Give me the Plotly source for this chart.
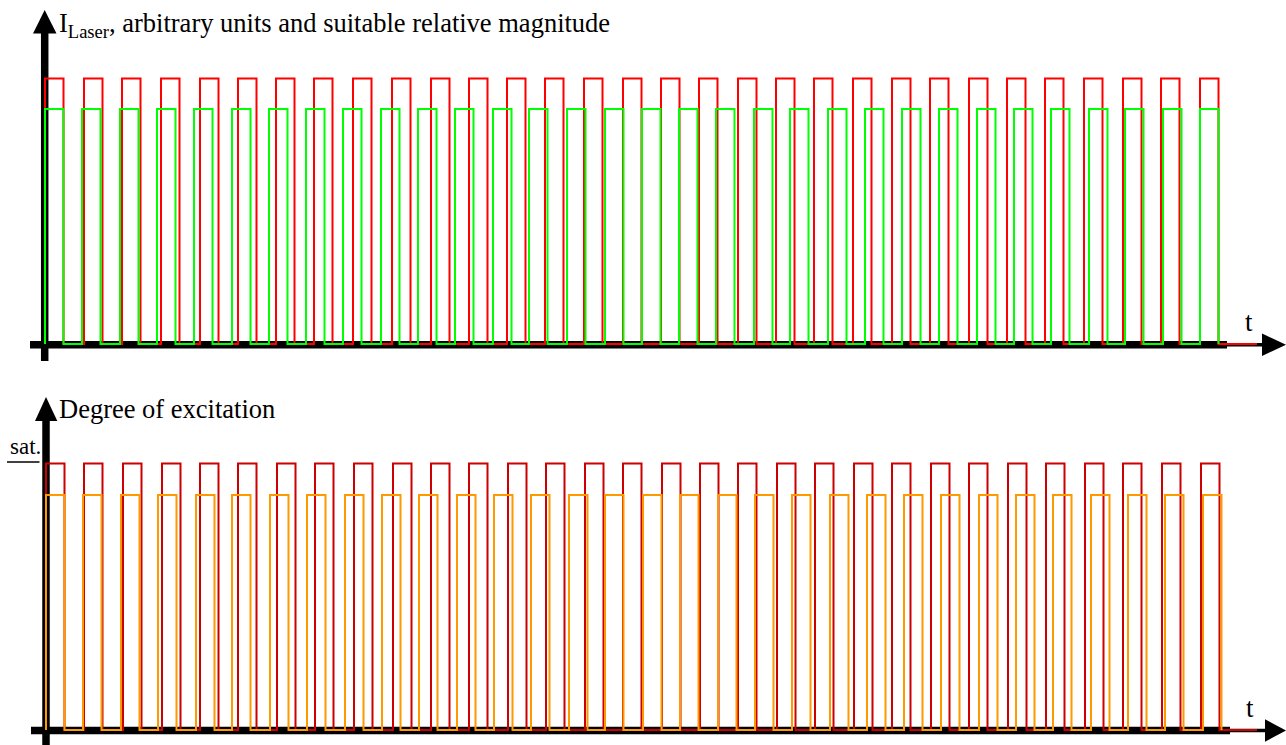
import plotly.graph_objects as go

W, H = 1286, 745

# Pulse onsets (time, arbitrary units) for each signal
laser_red_on = [0, 39, 77, 116, 155, 193, 231, 269, 308, 347, 386, 424, 462, 500, 539, 578,
                616, 654, 693, 731, 769, 808, 847, 885, 924, 962, 1000, 1039, 1078, 1116, 1155]
laser_green_on = [0, 37, 75, 112, 149, 187, 224, 261, 298, 336, 373, 410, 448, 484, 522, 560,
                  597, 634, 671, 709, 745, 783, 820, 857, 894, 932, 969, 1006, 1044, 1080, 1118, 1155]
exc_red_on = [1, 39, 78, 117, 155, 193, 232, 270, 309, 348, 386, 424, 463, 501, 540, 578,
              617, 655, 693, 732, 770, 809, 847, 886, 924, 963, 1001, 1040, 1078, 1117, 1156]
exc_orange_on = [1, 38, 76, 113, 151, 187, 225, 262, 300, 337, 374, 412, 449, 486, 524, 560,
                 598, 635, 673, 710, 747, 785, 822, 859, 896, 934, 971, 1008, 1046, 1083, 1120, 1158]

pulse_width = 18.5
laser_red_level = 1.0
laser_green_level = 0.885
sat_level = 1.0
exc_red_level = 1.0
exc_orange_level = 0.882
red_t_end = 1212

# Pixel layout of the two panels
X0_PX = 45            # t = 0
TOP_BASE_PX, TOP_ONE_PX = 344.0, 78.5
BOT_BASE_PX, BOT_ONE_PX = 730.0, 463.5


def pulse_train(onsets, width, level, t_stop=None):
    xs, ys = [], []
    for s in onsets:
        xs += [s, s, s + width, s + width]
        ys += [0, level, level, 0]
    if t_stop is not None:
        xs.append(t_stop)
        ys.append(0)
    return xs, ys


def y_range(base_px, one_px):
    f0 = 1 - base_px / H
    f1 = 1 - one_px / H
    k = f1 - f0
    return [-f0 / k, 1 + (1 - f1) / k]


def px(x):
    return x / W


def py(y):
    return 1 - y / H


fig = go.Figure()

for (on, lvl, col, xa, ya, stop) in [
    (laser_red_on, laser_red_level, "#ff0000", "x", "y", red_t_end),
    (laser_green_on, laser_green_level, "#00ff00", "x", "y", None),
    (exc_red_on, exc_red_level, "#cc0000", "x2", "y2", red_t_end),
    (exc_orange_on, exc_orange_level, "#ff9900", "x2", "y2", None),
]:
    xs, ys = pulse_train(on, pulse_width, lvl, stop)
    fig.add_trace(go.Scatter(x=xs, y=ys, mode="lines", xaxis=xa, yaxis=ya,
                             line=dict(color=col, width=2), hoverinfo="skip",
                             showlegend=False))

xr = [-X0_PX, W - X0_PX]
ax_common = dict(visible=False, fixedrange=True)
fig.update_layout(
    width=W, height=H, autosize=False,
    margin=dict(l=0, r=0, t=0, b=0, pad=0),
    paper_bgcolor="white", plot_bgcolor="rgba(0,0,0,0)",
    xaxis=dict(domain=[0, 1], range=xr, anchor="y", **ax_common),
    yaxis=dict(domain=[0, 1], range=y_range(TOP_BASE_PX, TOP_ONE_PX), anchor="x", **ax_common),
    xaxis2=dict(domain=[0, 1], range=xr, anchor="y2", **ax_common),
    yaxis2=dict(domain=[0, 1], range=y_range(BOT_BASE_PX, BOT_ONE_PX), anchor="x2", **ax_common),
)

shapes = []


def seg(x1, y1, x2, y2, w):
    shapes.append(dict(type="line", xref="paper", yref="paper", layer="below",
                       x0=px(x1), y0=py(y1), x1=px(x2), y1=py(y2),
                       line=dict(color="black", width=w)))


def tri(points):
    d = "M " + " L ".join(f"{px(a):.5f},{py(b):.5f}" for a, b in points) + " Z"
    shapes.append(dict(type="path", xref="paper", yref="paper", layer="below", path=d,
                       fillcolor="black", line=dict(color="black", width=0)))


# top panel axes
seg(30, 344.8, 1227, 344.8, 7.5)
seg(1226, 344.8, 1265, 344.8, 3.5)
tri([(1262, 333.5), (1286, 344.8), (1262, 356)])
seg(44.7, 361, 44.7, 32, 7.5)
tri([(33, 33.5), (44.7, 10), (56.5, 33.5)])

# bottom panel axes
seg(31, 730.5, 1230, 730.5, 7.5)
seg(1229, 730.5, 1268, 730.5, 3.5)
tri([(1265, 719.3), (1286, 730.5), (1265, 741.7)])
seg(46, 745, 46, 420, 7.5)
tri([(35, 421), (46, 397), (57.3, 421)])

# saturation mark
seg(7, 462, 39.5, 462, 1.5)

fig.update_layout(shapes=shapes)

serif = "Liberation Serif"
ann = [
    dict(text="I<sub>Laser</sub>, arbitrary units and suitable relative magnitude",
         x=px(57), y=py(25), xanchor="left", yanchor="middle", size=26.5),
    dict(text="Degree of excitation", x=px(57), y=py(409), xanchor="left", yanchor="middle", size=26.5),
    dict(text="sat.", x=px(8), y=py(446), xanchor="left", yanchor="middle", size=23),
    dict(text="t", x=px(1249), y=py(322), xanchor="center", yanchor="middle", size=27),
    dict(text="t", x=px(1250), y=py(708), xanchor="center", yanchor="middle", size=27),
]
fig.update_layout(annotations=[
    dict(text=a["text"], x=a["x"], y=a["y"], xref="paper", yref="paper",
         xanchor=a["xanchor"], yanchor=a["yanchor"], showarrow=False,
         font=dict(family=serif, size=a["size"], color="black"))
    for a in ann
])

fig.write_html("out.html", config={"displayModeBar": False})
